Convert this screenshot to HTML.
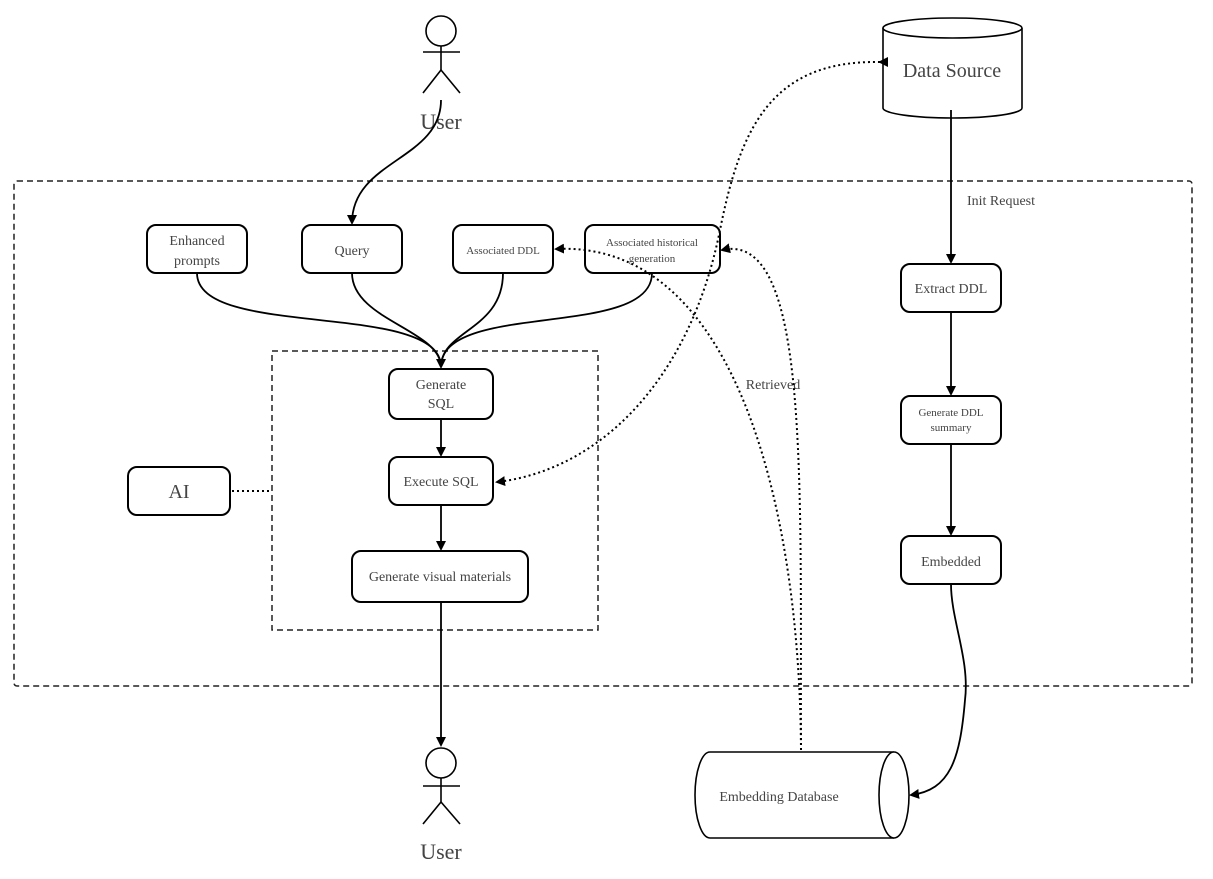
<!DOCTYPE html>
<html><head><style>
html,body{margin:0;padding:0;background:#fff;}
svg{display:block;}
text{font-family:"Liberation Serif",serif;fill:#444;}
</style></head><body>
<svg width="1213" height="879" viewBox="0 0 1213 879" xmlns="http://www.w3.org/2000/svg">
<defs>
<marker id="a" markerWidth="10" markerHeight="10" refX="8" refY="5" orient="auto" markerUnits="userSpaceOnUse">
<path d="M0,0 L10,5 L0,10 Z" fill="#000"/></marker>
</defs>
<!-- dashed containers -->
<rect x="14" y="181" width="1178" height="505" rx="3" fill="none" stroke="#222" stroke-width="1.5" stroke-dasharray="6,4"/>
<rect x="272" y="351" width="326" height="279" fill="none" stroke="#222" stroke-width="1.5" stroke-dasharray="6,4"/>

<g fill="none" stroke="#000" stroke-width="1.6">
<!-- top user -->
<circle cx="441" cy="31" r="15"/>
<line x1="423" y1="52" x2="460" y2="52"/>
<line x1="441" y1="46" x2="441" y2="70"/>
<line x1="441" y1="70" x2="423" y2="93"/>
<line x1="441" y1="70" x2="460" y2="93"/>
<!-- bottom user -->
<circle cx="441" cy="763" r="15"/>
<line x1="423" y1="786" x2="460" y2="786"/>
<line x1="441" y1="778" x2="441" y2="802"/>
<line x1="441" y1="802" x2="423" y2="824"/>
<line x1="441" y1="802" x2="460" y2="824"/>
</g>
<text x="441" y="129" font-size="22" text-anchor="middle">User</text>
<text x="441" y="859" font-size="22" text-anchor="middle">User</text>

<!-- Data Source cylinder -->
<g fill="#fff" stroke="#000" stroke-width="1.6">
<path d="M883,28 L883,108 A69.5,10 0 0 0 1022,108 L1022,28"/>
<ellipse cx="952.5" cy="28" rx="69.5" ry="10"/>
</g>
<text x="952" y="77" font-size="20" text-anchor="middle">Data Source</text>

<!-- Embedding DB cylinder -->
<g fill="#fff" stroke="#000" stroke-width="1.6">
<path d="M894,752 L710,752 A15,43 0 0 0 710,838 L894,838"/>
<ellipse cx="894" cy="795" rx="15" ry="43"/>
</g>
<text x="779" y="801" font-size="14" text-anchor="middle">Embedding Database</text>

<!-- boxes -->
<g fill="#fff" stroke="#000" stroke-width="2">
<rect x="147" y="225" width="100" height="48" rx="9"/>
<rect x="302" y="225" width="100" height="48" rx="9"/>
<rect x="453" y="225" width="100" height="48" rx="9"/>
<rect x="585" y="225" width="135" height="48" rx="9"/>
<rect x="389" y="369" width="104" height="50" rx="9"/>
<rect x="389" y="457" width="104" height="48" rx="9"/>
<rect x="352" y="551" width="176" height="51" rx="9"/>
<rect x="128" y="467" width="102" height="48" rx="9"/>
<rect x="901" y="264" width="100" height="48" rx="9"/>
<rect x="901" y="396" width="100" height="48" rx="9"/>
<rect x="901" y="536" width="100" height="48" rx="9"/>
</g>
<g text-anchor="middle">
<text x="197" y="245" font-size="14">Enhanced</text>
<text x="197" y="265" font-size="14">prompts</text>
<text x="352" y="255" font-size="14">Query</text>
<text x="503" y="254" font-size="11">Associated DDL</text>
<text x="652" y="246" font-size="11">Associated historical</text>
<text x="652" y="262" font-size="11">generation</text>
<text x="441" y="389" font-size="14">Generate</text>
<text x="441" y="408" font-size="14">SQL</text>
<text x="441" y="486" font-size="14">Execute SQL</text>
<text x="440" y="581" font-size="14">Generate visual materials</text>
<text x="179" y="498" font-size="20">AI</text>
<text x="951" y="293" font-size="14">Extract DDL</text>
<text x="951" y="416" font-size="11">Generate DDL</text>
<text x="951" y="431" font-size="11">summary</text>
<text x="951" y="566" font-size="14">Embedded</text>
<text x="1001" y="205" font-size="14">Init Request</text>
<text x="773" y="389" font-size="14">Retrieved</text>
</g>

<!-- solid connectors -->
<g fill="none" stroke="#000" stroke-width="1.8">
<path d="M441,100 C441,160 352,160 352,223" marker-end="url(#a)"/>
<path d="M197,273 C197,340 441,300 441,367" marker-end="url(#a)"/>
<path d="M352,273 C352,320 441,330 441,367"/>
<path d="M503,273 C503,330 441,330 441,367"/>
<path d="M652,273 C652,340 441,300 441,367"/>
<path d="M441,419 L441,455" marker-end="url(#a)"/>
<path d="M441,505 L441,549" marker-end="url(#a)"/>
<path d="M441,602 L441,745" marker-end="url(#a)"/>
<path d="M951,110 L951,262" marker-end="url(#a)"/>
<path d="M951,312 L951,394" marker-end="url(#a)"/>
<path d="M951,444 L951,534" marker-end="url(#a)"/>
<path d="M951,584 C951,620 970,660 965,700 C960,760 950,790 911,795" marker-end="url(#a)"/>
</g>
<!-- dotted connectors -->
<g fill="none" stroke="#000" stroke-width="2" stroke-dasharray="2,3">
<line x1="232" y1="491" x2="272" y2="491"/>
<path d="M880,62 C770,60 740,130 720,230 C690,380 600,470 497,482" marker-end="url(#a)"/>
<path d="M882,62 L880,62" marker-end="url(#a)"/>
<path d="M801,750 C800,520 740,240 556,249" marker-end="url(#a)"/>
<path d="M801,750 C800,480 810,230 722,250" marker-end="url(#a)"/>
</g>
</svg>
</body></html>
